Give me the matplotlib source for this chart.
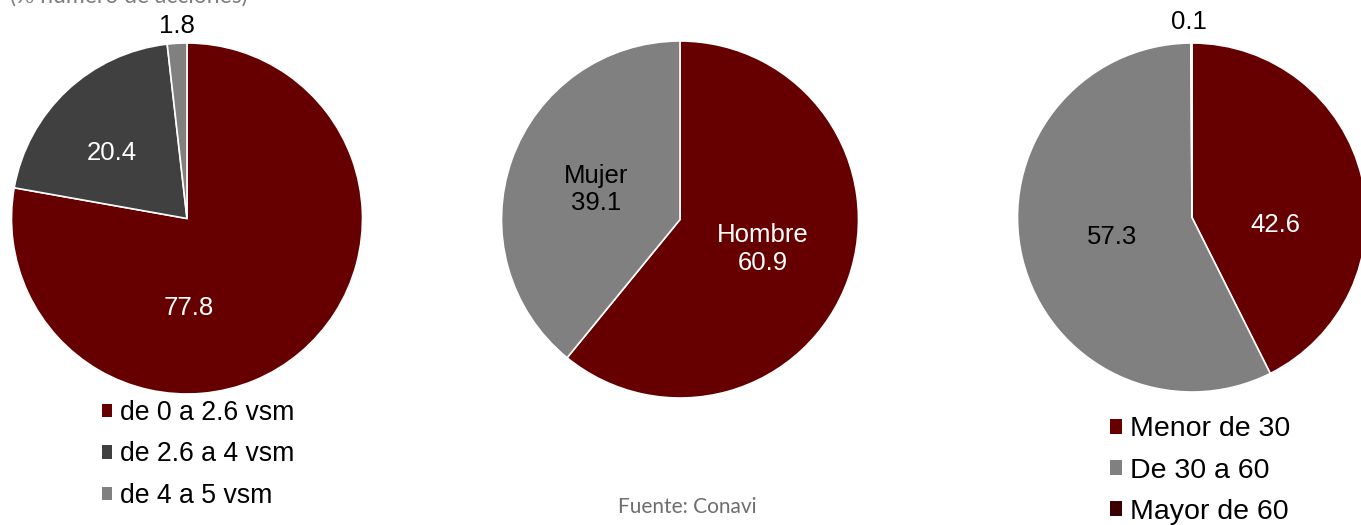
"""
Pies: acciones por ingreso, sexo y edad
"""
import numpy as np
import matplotlib.pyplot as plt
from matplotlib.patches import Patch

plt.rcParams['font.family'] = ['Liberation Sans', 'DejaVu Sans']

# ingreso (vsm)
ingreso_labels = ['de 0 a 2.6 vsm', 'de 2.6 a 4 vsm', 'de 4 a 5 vsm']
ingreso_values = [77.8, 20.4, 1.8]

# sexo
sexo_labels = ['Hombre', 'Mujer']
sexo_values = [60.9, 39.1]

# edad
edad_labels = ['Menor de 30', 'De 30 a 60', 'Mayor de 60']
edad_values = [42.6, 57.3, 0.1]

RED = '#660000'
W, H = 1361, 525

fig = plt.figure(figsize=(W / 100, H / 100), dpi=100)
ax = fig.add_axes([0, 0, 1, 1])


def draw_pie(values, center, radius, colors, texts, text_colors, spots, size=18.5):
    """ Draw a pie clockwise from the top and put a label per wedge """
    wedges, _ = ax.pie(values, colors=colors, startangle=90, counterclock=False,
                       center=center, radius=radius,
                       wedgeprops=dict(edgecolor='white', linewidth=1.2))
    for wdg, txt, col, (r, ang) in zip(wedges, texts, text_colors, spots):
        if ang is None:
            ang = (wdg.theta1 + wdg.theta2) / 2
        rad = np.deg2rad(ang)
        ax.text(center[0] + r * radius * np.cos(rad),
                center[1] + r * radius * np.sin(rad),
                txt, ha='center', va='center', color=col, fontsize=size,
                linespacing=1.2)
    return wedges


draw_pie(ingreso_values, (187, H - 218.5), 175.5,
         [RED, '#404040', '#808080'],
         [f'{v:.1f}' for v in ingreso_values], ['white', 'white', 'black'],
         [(0.51, -89), (0.57, 139), (1.1, 93)])

draw_pie(sexo_values, (680, H - 219.5), 178.5,
         [RED, '#808080'],
         [f'{n}\n{v:.1f}' for n, v in zip(sexo_labels, sexo_values)],
         ['white', 'black'],
         [(0.49, None), (0.5, None)])

draw_pie(edad_values, (1192, H - 217.5), 174.5,
         [RED, '#808080', '#3c0000'],
         [f'{v:.1f}' for v in edad_values], ['white', 'black', 'black'],
         [(0.48, -5), (0.47, None), (1.12, 91)])

ax.set_xlim(0, W)
ax.set_ylim(0, H)
ax.set_aspect('equal')
ax.axis('off')

# legends
h1 = [Patch(facecolor=c) for c in [RED, '#404040', '#808080']]
fig.legend(h1, ingreso_labels, loc='upper left',
           bbox_to_anchor=(101.5 / W, (H - 400) / H), frameon=False,
           fontsize=19.2, handlelength=0.4, handleheight=0.4,
           handletextpad=0.3, labelspacing=0.58, borderpad=0, borderaxespad=0)

h3 = [Patch(facecolor=c) for c in [RED, '#808080', '#3c0000']]
fig.legend(h3, edad_labels, loc='upper left',
           bbox_to_anchor=(1110 / W, (H - 416.5) / H), frameon=False,
           fontsize=20.5, handlelength=0.41, handleheight=0.41,
           handletextpad=0.28, labelspacing=0.53, borderpad=0, borderaxespad=0)

ax.text(10, H - 2.7, '(% número de acciones)', va='baseline', ha='left',
        color='#7f7f7f', fontsize=16.5, family=['Lato', 'DejaVu Sans'])
ax.text(687, H - 507, 'Fuente: Conavi', va='center', ha='center',
        color='#6e6e6e', fontsize=15, family=['Lato', 'DejaVu Sans'])

fig.savefig('out.png', dpi=100)
